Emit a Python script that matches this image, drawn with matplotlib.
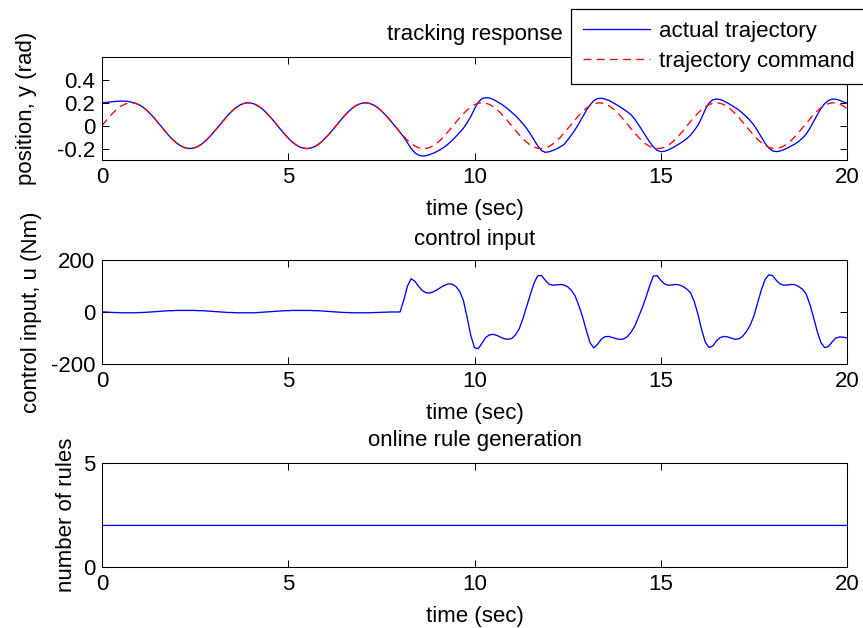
import numpy as np
import matplotlib
matplotlib.use("Agg")
import matplotlib.pyplot as plt

plt.rcParams['font.family'] = ['Liberation Sans', 'DejaVu Sans']
plt.rcParams['font.size'] = 16
plt.rcParams['axes.titlesize'] = 16
plt.rcParams['axes.unicode_minus'] = False

# ---------------- data (0.1 s grid) ----------------
time = np.linspace(0, 20, 201)

trajectory_command = [
    0.000, 0.040, 0.078, 0.113, 0.143, 0.168, 0.186, 0.197, 0.200, 0.195,
    0.182, 0.162, 0.135, 0.103, 0.067, 0.028, -0.012, -0.051, -0.089, -0.122,
    -0.151, -0.174, -0.190, -0.199, -0.199, -0.192, -0.177, -0.155, -0.126, -0.093,
    -0.056, -0.017, 0.023, 0.062, 0.099, 0.131, 0.159, 0.180, 0.194, 0.200,
    0.198, 0.188, 0.171, 0.147, 0.117, 0.082, 0.045, 0.005, -0.035, -0.073,
    -0.109, -0.140, -0.166, -0.185, -0.196, -0.200, -0.196, -0.184, -0.165, -0.139,
    -0.107, -0.072, -0.033, 0.007, 0.046, 0.084, 0.118, 0.148, 0.172, 0.188,
    0.198, 0.200, 0.193, 0.179, 0.158, 0.130, 0.097, 0.061, 0.022, -0.018,
    -0.057, -0.094, -0.128, -0.156, -0.178, -0.192, -0.199, -0.199, -0.190, -0.173,
    -0.150, -0.121, -0.087, -0.049, -0.010, 0.030, 0.069, 0.105, 0.136, 0.163,
    0.183, 0.195, 0.200, 0.197, 0.186, 0.167, 0.142, 0.111, 0.076, 0.038,
    -0.002, -0.041, -0.080, -0.114, -0.145, -0.169, -0.187, -0.197, -0.200, -0.194,
    -0.181, -0.161, -0.134, -0.102, -0.065, -0.026, 0.013, 0.053, 0.090, 0.124,
    0.153, 0.175, 0.191, 0.199, 0.199, 0.191, 0.176, 0.153, 0.125, 0.091,
    0.054, 0.015, -0.025, -0.064, -0.100, -0.133, -0.160, -0.181, -0.194, -0.200,
    -0.198, -0.188, -0.170, -0.146, -0.116, -0.081, -0.043, -0.003, 0.037, 0.075,
    0.110, 0.141, 0.167, 0.185, 0.197, 0.200, 0.195, 0.183, 0.164, 0.137,
    0.106, 0.070, 0.031, -0.009, -0.048, -0.086, -0.120, -0.149, -0.173, -0.189,
    -0.198, -0.199, -0.193, -0.178, -0.157, -0.129, -0.096, -0.059, -0.020, 0.020,
    0.059, 0.096, 0.129, 0.157, 0.178, 0.193, 0.200, 0.198, 0.189, 0.173,
    0.149,
]

actual_trajectory = [
    0.200, 0.203, 0.207, 0.210, 0.213, 0.215, 0.215, 0.212, 0.205, 0.195,
    0.182, 0.162, 0.135, 0.103, 0.067, 0.028, -0.012, -0.051, -0.089, -0.122,
    -0.151, -0.174, -0.190, -0.199, -0.199, -0.192, -0.177, -0.155, -0.126, -0.093,
    -0.056, -0.017, 0.023, 0.062, 0.099, 0.131, 0.159, 0.180, 0.194, 0.200,
    0.198, 0.188, 0.171, 0.147, 0.117, 0.082, 0.045, 0.005, -0.035, -0.073,
    -0.109, -0.140, -0.166, -0.185, -0.196, -0.200, -0.196, -0.184, -0.165, -0.139,
    -0.107, -0.072, -0.033, 0.007, 0.046, 0.084, 0.118, 0.148, 0.172, 0.188,
    0.198, 0.200, 0.193, 0.179, 0.158, 0.130, 0.097, 0.061, 0.022, -0.018,
    -0.057, -0.100, -0.150, -0.200, -0.237, -0.258, -0.265, -0.262, -0.252, -0.240,
    -0.224, -0.206, -0.184, -0.158, -0.128, -0.095, -0.060, -0.023, 0.025, 0.080,
    0.147, 0.205, 0.237, 0.245, 0.242, 0.230, 0.212, 0.193, 0.170, 0.145,
    0.117, 0.088, 0.054, 0.017, -0.025, -0.072, -0.125, -0.178, -0.218, -0.233,
    -0.228, -0.217, -0.203, -0.185, -0.165, -0.125, -0.082, -0.035, 0.018, 0.075,
    0.132, 0.181, 0.218, 0.237, 0.240, 0.233, 0.222, 0.205, 0.186, 0.166,
    0.144, 0.122, 0.096, 0.058, 0.010, -0.040, -0.092, -0.142, -0.185, -0.215,
    -0.227, -0.224, -0.212, -0.196, -0.177, -0.158, -0.137, -0.112, -0.082, -0.040,
    0.005, 0.070, 0.145, 0.200, 0.227, 0.233, 0.228, 0.215, 0.197, 0.177,
    0.158, 0.135, 0.108, 0.078, 0.045, 0.005, -0.045, -0.100, -0.154, -0.195,
    -0.220, -0.227, -0.222, -0.210, -0.195, -0.178, -0.160, -0.138, -0.110, -0.075,
    -0.025, 0.035, 0.095, 0.150, 0.193, 0.220, 0.232, 0.232, 0.222, 0.208,
    0.196,
]

control_input = [
    1, 0, -1, -2, -2, -3, -3, -3, -3, -3,
    -2, -2, -1, 0, 1, 2, 3, 4, 5, 5,
    6, 6, 6, 6, 6, 6, 5, 5, 4, 3,
    2, 1, 0, -1, -2, -2, -3, -3, -3, -3,
    -3, -3, -2, -1, 0, 1, 2, 3, 4, 5,
    5, 6, 6, 6, 6, 6, 6, 5, 5, 4,
    3, 2, 1, 0, -1, -2, -2, -3, -3, -3,
    -3, -3, -3, -2, -2, -1, -1, 0, 0, 0,
    0, 45, 100, 128, 118, 98, 82, 74, 73, 78,
    86, 95, 103, 108, 107, 98, 80, 45, -20, -90,
    -138, -141, -120, -98, -88, -86, -90, -97, -103, -105,
    -102, -88, -65, -25, 22, 68, 112, 140, 140, 122,
    107, 103, 104, 106, 104, 97, 83, 62, 25, -18,
    -70, -118, -138, -125, -105, -95, -94, -98, -103, -105,
    -104, -95, -78, -55, -20, 15, 55, 100, 138, 140,
    122, 108, 103, 104, 106, 104, 98, 88, 74, 40,
    -10, -70, -118, -137, -130, -110, -98, -94, -96, -101,
    -105, -103, -93, -75, -51, -15, 35, 85, 125, 143,
    140, 122, 108, 103, 104, 106, 105, 98, 88, 70,
    30, -20, -75, -118, -137, -133, -115, -100, -96, -97,
    -100,
]

rule_time = [0.0, 0.01, 20.0]
rule_count = [1, 2, 2]

x_ticks = [0, 5, 10, 15, 20]
pos_ticks = [-0.2, 0, 0.2, 0.4]
pos_tick_labels = ["-0.2", "0", "0.2", "0.4"]
u_ticks = [-200, 0, 200]
rule_ticks = [0, 5]

# ---------------- figure ----------------
fig = plt.figure(figsize=(8.63, 6.28), dpi=100)
left, width = 0.1182, 0.8633
ax1 = fig.add_axes([left, 0.7452, width, 0.1640])
ax2 = fig.add_axes([left, 0.4204, width, 0.1656])
ax3 = fig.add_axes([left, 0.0971, width, 0.1656])

for ax in (ax1, ax2, ax3):
    ax.set_xlim(0, 20)
    ax.set_xticks(x_ticks)
    ax.tick_params(direction='in', top=True, right=True, length=5, width=0.75,
                   pad=5, labelsize=16)
    for s in ax.spines.values():
        s.set_linewidth(0.75)
    ax.set_xlabel('time (sec)', labelpad=8)

blue = (0, 0, 1)
red = (1, 0, 0)

l1, = ax1.plot(time, actual_trajectory, color=blue, lw=0.95, label='actual trajectory')
l2, = ax1.plot(time, trajectory_command, color=red, lw=0.95, dashes=(6, 4),
               label='trajectory command')
ax1.set_ylim(-0.3, 0.6)
ax1.set_yticks(pos_ticks)
ax1.set_yticklabels(pos_tick_labels)
ax1.set_title('tracking response', pad=12)
ax1.set_ylabel('position, y (rad)')
ax1.yaxis.set_label_coords(-0.087, 0.5)

ax2.plot(time, control_input, color=blue, lw=0.95)
ax2.set_ylim(-200, 200)
ax2.set_yticks(u_ticks)
ax2.set_title('control input', pad=11)
ax2.set_ylabel('control input, u (Nm)')
ax2.yaxis.set_label_coords(-0.080, 0.5)

ax3.plot(rule_time, rule_count, color=blue, lw=0.95)
ax3.set_ylim(0, 5)
ax3.set_yticks(rule_ticks)
ax3.set_title('online rule generation', pad=12)
ax3.set_ylabel('number of rules')
ax3.yaxis.set_label_coords(-0.034, 0.5)

leg = fig.legend(handles=[l1, l2], loc='upper left',
                 bbox_to_anchor=(571 / 863, 1 - 9 / 628), borderaxespad=0,
                 fancybox=False, edgecolor='black', framealpha=1,
                 borderpad=0.55, labelspacing=0.4, handlelength=3.0,
                 handletextpad=0.4, fontsize=16)
leg.get_frame().set_linewidth(0.9)

fig.savefig('out.png', dpi=100)
